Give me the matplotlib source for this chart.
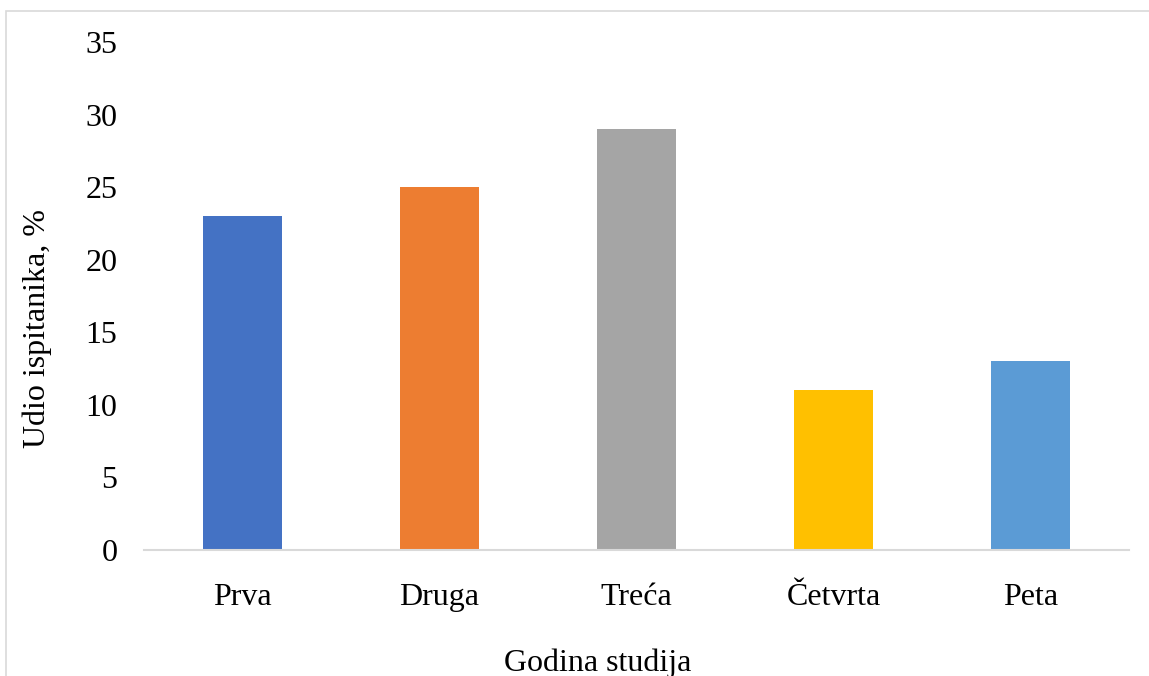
import matplotlib.pyplot as plt
from matplotlib.patches import Rectangle

godine = ['Prva', 'Druga', 'Treća', 'Četvrta', 'Peta']
udio = [23, 25, 29, 11, 13]
boje = ['#4472C4', '#ED7D31', '#A5A5A5', '#FFC000', '#5B9BD5']
y_ticks = [0, 5, 10, 15, 20, 25, 30, 35]

plt.rcParams['font.family'] = ['Liberation Serif', 'DejaVu Serif']

W, H = 1149, 676
fig = plt.figure(figsize=(W / 100, H / 100), dpi=100)
ax = fig.add_axes([144 / W, 1 - 550 / H, (1129 - 144) / W, (550 - 42) / H])

x = range(len(godine))
ax.bar(x, udio, width=0.4, color=boje)

ax.set_xlim(-0.5, len(godine) - 0.5)
ax.set_ylim(0, 35)
ax.set_yticks(y_ticks)
ax.set_xticks(list(x))
ax.set_xticklabels(godine)
ax.tick_params(axis='both', length=0, labelsize=23, colors='black')
ax.tick_params(axis='y', pad=19)
ax.tick_params(axis='x', pad=24)

for s in ['top', 'right', 'left']:
    ax.spines[s].set_visible(False)
ax.spines['bottom'].set_color('#d9d9d9')
ax.spines['bottom'].set_linewidth(1.5)

# naslovi osi
fig.text(37 / W, 1 - 328 / H, 'Udio ispitanika, %', fontsize=23,
         rotation=90, ha='center', va='center')
fig.text(598 / W, 1 - 663 / H, 'Godina studija', fontsize=23,
         ha='center', va='center')

# okvir grafikona
fig.patches.append(Rectangle((6 / W, -0.1), 1.2, 1 - 11 / H + 0.1,
                             transform=fig.transFigure, fill=False,
                             edgecolor='#d9d9d9', linewidth=1.2))

fig.savefig('out.png', dpi=100)
